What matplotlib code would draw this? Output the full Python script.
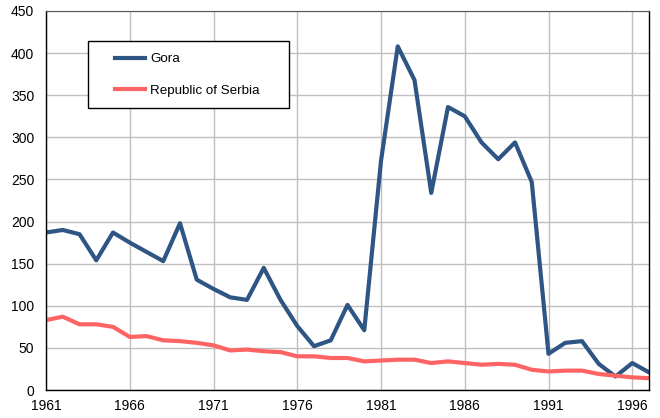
import matplotlib
matplotlib.use("Agg")
import matplotlib.pyplot as plt
from matplotlib.patches import Rectangle

years = list(range(1961, 1998))
gora = [187, 190, 185, 154, 187, 175, 164, 153, 198, 131,
        120, 110, 107, 145, 107, 76, 52, 59, 101, 71,
        272, 408, 368, 234, 336, 325, 294, 274, 294, 247,
        43, 56, 58, 31, 16, 32, 21]
serbia = [83, 87, 78, 78, 75, 63, 64, 59, 58, 56,
          53, 47, 48, 46, 45, 40, 40, 38, 38, 34,
          35, 36, 36, 32, 34, 32, 30, 31, 30, 24,
          22, 23, 23, 19, 17, 15, 14]
xticks = [1961, 1966, 1971, 1976, 1981, 1986, 1991, 1996]
yticks = list(range(0, 451, 50))

plt.rcParams['font.family'] = ['Liberation Sans', 'DejaVu Sans']

W, H = 660, 418
fig = plt.figure(figsize=(6.6, 4.18), dpi=100)
ax = fig.add_axes([46/W, 1-390/H, (649-46)/W, (390-11)/H])

ax.plot(years, gora, color='#2F5584', lw=3.0, label='Gora')
ax.plot(years, serbia, color='#FF6464', lw=3.0, label='Republic of Serbia')

ax.set_xlim(1961, 1997)
ax.set_ylim(0, 450)
ax.set_xticks(xticks)
ax.set_yticks(yticks)
ax.grid(True, color='#BFBFBF', lw=1.0)
ax.set_axisbelow(True)
ax.tick_params(length=0, labelsize=10)
ax.tick_params(axis='x', pad=6.5)
ax.tick_params(axis='y', pad=8.5)
for s in ['left', 'bottom', 'right']:
    ax.spines[s].set_color('black')
    ax.spines[s].set_linewidth(1.0)
ax.spines['top'].set_color('#555555')

# legend frame
frame = Rectangle((88/W, 1-108/H), (289-88)/W, (108-41)/H, transform=fig.transFigure,
                  facecolor='white', edgecolor='black', lw=1.0, zorder=5)
fig.patches.append(frame)

leg = fig.legend(*ax.get_legend_handles_labels(), loc='center left',
                 bbox_to_anchor=(115/W, 1-75/H), bbox_transform=fig.transFigure,
                 frameon=False, borderpad=0, borderaxespad=0,
                 fontsize=9.6, handlelength=2.25, handletextpad=0.4,
                 labelspacing=1.45)
leg.set_zorder(6)
for l in leg.get_lines():
    l.set_linewidth(3.0)

fig.savefig('out.png', dpi=100)
